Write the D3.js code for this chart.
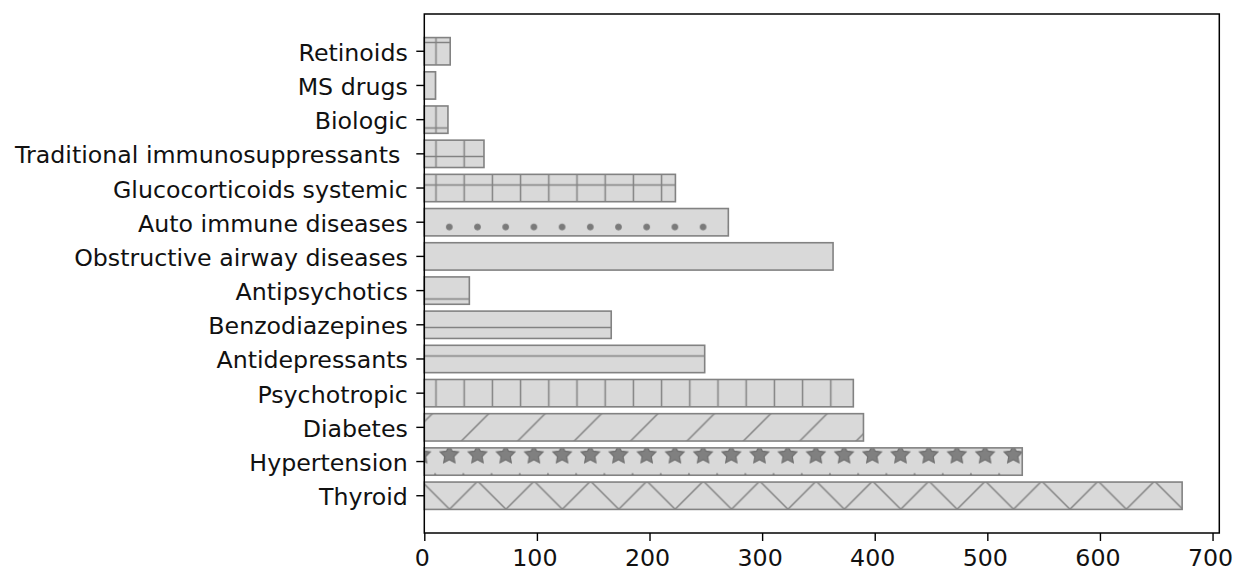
<!DOCTYPE html>
<html>
<head>
<meta charset="utf-8">
<script src="https://cdn.jsdelivr.net/npm/d3@7"></script>
<style>
  body { margin: 0; background: #fff; }
  svg { display: block; font-family: "DejaVu Sans", sans-serif; }
</style>
</head>
<body>
<div id="chart"></div>
<script>
// bars, listed from the bottom of the chart to the top
const categories = ["Thyroid", "Hypertension", "Diabetes", "Psychotropic", "Antidepressants",
  "Benzodiazepines", "Antipsychotics", "Obstructive airway diseases", "Auto immune diseases",
  "Glucocorticoids systemic", "Traditional immunosuppressants ", "Biologic", "MS drugs", "Retinoids"];
const counts = [673, 531, 390, 381, 249, 166, 40, 363, 270, 223, 53, 21, 10, 23];
const xTicks = [0, 100, 200, 300, 400, 500, 600, 700];

const width = 1234, height = 572;
const plot = { left: 424.3, right: 1219.3, top: 14, bottom: 533 };

// hatch per bar (style)
const hatchOf = {
  "Thyroid": "cross", "Hypertension": "stars", "Diabetes": "diag", "Psychotropic": "vline",
  "Antidepressants": "hline", "Benzodiazepines": "hline", "Antipsychotics": "hline",
  "Auto immune diseases": "dots", "Glucocorticoids systemic": "plus",
  "Traditional immunosuppressants ": "plus", "Biologic": "plus", "MS drugs": "plus", "Retinoids": "plus"
};
const barFill = "#d9d9d9";
const edgeColor = "#828282";
const fontSize = "23.7px";
const cellX = 28.2, cellY = 28.5, diagP = 56.4;

const rows = categories.map((c, i) => ({ name: c, value: counts[i] }));

const svg = d3.select("#chart").append("svg")
  .attr("width", width)
  .attr("height", height);

// hatch patterns, anchored to the page like matplotlib does
const defs = svg.append("defs");

function pattern(id, x, y, w, h) {
  return defs.append("pattern")
    .attr("id", id)
    .attr("patternUnits", "userSpaceOnUse")
    .attr("x", x).attr("y", y)
    .attr("width", w).attr("height", h);
}
function seg(p, x1, y1, x2, y2) {
  p.append("line")
    .attr("x1", x1).attr("y1", y1).attr("x2", x2).attr("y2", y2)
    .attr("stroke", edgeColor).attr("stroke-width", 1.5);
}

let p = pattern("hatch-vline", 436 - cellX / 2, 0, cellX, cellY);
seg(p, cellX / 2, -1, cellX / 2, cellY + 1);

p = pattern("hatch-hline", 0, 356 - cellY / 2, cellX, cellY);
seg(p, -1, cellY / 2, cellX + 1, cellY / 2);

p = pattern("hatch-plus", 436 - cellX / 2, 356 - cellY / 2, cellX, cellY);
seg(p, cellX / 2, -1, cellX / 2, cellY + 1);
seg(p, -1, cellY / 2, cellX + 1, cellY / 2);

p = pattern("hatch-diag", 0, 0, diagP, diagP);
seg(p, 0, diagP, diagP, 0);
seg(p, -2, 2, 2, -2);
seg(p, diagP - 2, diagP + 2, diagP + 2, diagP - 2);

p = pattern("hatch-cross", -1.65, 1.65, diagP, diagP);
seg(p, 0, diagP, diagP, 0);
seg(p, -2, 2, 2, -2);
seg(p, diagP - 2, diagP + 2, diagP + 2, diagP - 2);
seg(p, 0, 0, diagP, diagP);
seg(p, diagP - 2, -2, diagP + 2, 2);
seg(p, -2, diagP - 2, 2, diagP + 2);

const shapeSpots = [[cellX / 2, cellY / 2], [0, 1.5 * cellY], [cellX, 1.5 * cellY]];

p = pattern("hatch-dots", 449.3 - cellX / 2, 455 - cellY / 2, cellX, 2 * cellY);
shapeSpots.forEach(([cx, cy]) => {
  p.append("circle").attr("cx", cx).attr("cy", cy).attr("r", 3)
    .attr("fill", "#7a7a7a").attr("stroke", "#777").attr("stroke-width", 0.8);
});

function starPath(r) {
  const pts = d3.range(10).map(k => {
    const a = -Math.PI / 2 + k * Math.PI / 5;
    const rr = k % 2 ? r * 0.5 : r;
    return [rr * Math.cos(a), rr * Math.sin(a)];
  });
  return d3.line()(pts) + "Z";
}
p = pattern("hatch-stars", 449.3 - cellX / 2, 455 - cellY / 2, cellX, 2 * cellY);
shapeSpots.forEach(([cx, cy]) => {
  p.append("path").attr("d", starPath(9.6))
    .attr("transform", `translate(${cx},${cy})`)
    .attr("fill", "#808080").attr("stroke", "#6e6e6e").attr("stroke-width", 1.2);
});

// scales
const x = d3.scaleLinear()
  .domain([0, 706])
  .range([plot.left, plot.right]);

const y = d3.scaleBand()
  .domain(categories.slice().reverse())
  .range([plot.top, plot.bottom])
  .paddingInner(0.2)
  .paddingOuter(0.69);

// bars: fill, hatch, edge
const bars = svg.append("g").selectAll("g")
  .data(rows)
  .join("g");

bars.append("rect")
  .attr("x", x(0))
  .attr("y", d => y(d.name))
  .attr("width", d => x(d.value) - x(0))
  .attr("height", y.bandwidth())
  .attr("fill", barFill);

bars.filter(d => hatchOf[d.name]).append("rect")
  .attr("x", x(0))
  .attr("y", d => y(d.name))
  .attr("width", d => x(d.value) - x(0))
  .attr("height", y.bandwidth())
  .attr("fill", d => `url(#hatch-${hatchOf[d.name]})`);

bars.append("rect")
  .attr("x", x(0))
  .attr("y", d => y(d.name))
  .attr("width", d => x(d.value) - x(0))
  .attr("height", y.bandwidth())
  .attr("fill", "none")
  .attr("stroke", edgeColor)
  .attr("stroke-width", 1.6);

// axes
svg.append("g")
  .attr("transform", `translate(0,${plot.bottom})`)
  .call(d3.axisBottom(x).tickValues(xTicks).tickSize(8).tickPadding(8))
  .call(g => g.select(".domain").remove())
  .call(g => g.selectAll("line").attr("stroke", "#000").attr("stroke-width", 1.4))
  .call(g => g.selectAll("text").attr("fill", "#111").attr("dx", -2.5)
    .style("font-size", fontSize)
    .style("font-family", "'DejaVu Sans', sans-serif"));

svg.append("g")
  .attr("transform", `translate(${plot.left},0)`)
  .call(d3.axisLeft(y).tickSize(8).tickPadding(8.5))
  .call(g => g.select(".domain").remove())
  .call(g => g.selectAll("line").attr("stroke", "#000").attr("stroke-width", 1.4))
  .call(g => g.selectAll("text").attr("fill", "#111").attr("dy", "0.4em")
    .style("font-size", fontSize).style("white-space", "pre")
    .style("font-family", "'DejaVu Sans', sans-serif"));

// frame
svg.append("rect")
  .attr("x", plot.left)
  .attr("y", plot.top)
  .attr("width", plot.right - plot.left)
  .attr("height", plot.bottom - plot.top)
  .attr("fill", "none")
  .attr("stroke", "#000")
  .attr("stroke-width", 1.5);
</script>
</body>
</html>
